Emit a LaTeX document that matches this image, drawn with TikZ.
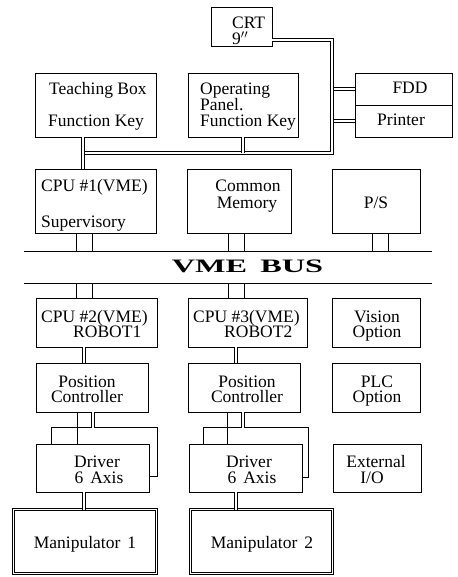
\documentclass[tikz,border=0pt]{standalone}
\usepackage{fontspec}
\setmainfont{Liberation Serif}
\usetikzlibrary{calc}
\begin{document}
\begin{tikzpicture}[x=1pt,y=-1pt,
  box/.style={draw, line width=0.7pt, inner sep=0pt, rectangle},
  ghost/.style={inner sep=0pt, rectangle},
  txt/.style={inner sep=0pt, font=\fontsize{17.5}{16}\selectfont},
  ln/.style={line width=0.7pt},
  dbl/.style={draw=white, line width=1.3pt, preaction={draw=black, line width=3.1pt}},
  mbox/.style={draw=white, line width=1.8pt, inner sep=0pt, rectangle, preaction={draw=black, line width=3.6pt}},
  busline/.style={line width=0.8pt}]
\useasboundingbox (0,0) rectangle (457,577);
% boxes
\node[box, minimum width=61pt, minimum height=39pt] (crt) at (241.5,26.5) {};
\node[box, minimum width=121pt, minimum height=64pt] (tb) at (95.5,105) {};
\node[box, minimum width=110pt, minimum height=64pt] (op) at (243,105) {};
\node[box, minimum width=97pt, minimum height=32pt] (fdd) at (403.5,89) {};
\node[box, minimum width=97pt, minimum height=32pt] (prn) at (403.5,121) {};
\node[box, minimum width=121pt, minimum height=64pt] (cpu1) at (95.5,201) {};
\node[box, minimum width=104pt, minimum height=64pt] (cm) at (239,201) {};
\node[box, minimum width=88pt, minimum height=64pt] (ps) at (376,201) {};
\node[box, minimum width=121pt, minimum height=49pt] (cpu2) at (96.5,322.5) {};
\node[box, minimum width=119pt, minimum height=49pt] (cpu3) at (247.5,322.5) {};
\node[box, minimum width=88pt, minimum height=49pt] (vis) at (376,322.5) {};
\node[box, minimum width=112pt, minimum height=49pt] (pc1) at (92,387.5) {};
\node[box, minimum width=112pt, minimum height=49pt] (pc2) at (244,387.5) {};
\node[box, minimum width=88pt, minimum height=49pt] (plc) at (376,387.5) {};
\node[ghost, minimum width=105pt, minimum height=48pt] (drv1b) at (104.5,452) {};
\node[ghost, minimum width=104pt, minimum height=49pt] (drv2b) at (256,452.5) {};
\node[box, minimum width=113pt, minimum height=48pt] (drv1) at (92.5,468) {};
\node[box, minimum width=113pt, minimum height=48pt] (drv2) at (245.5,468) {};
\node[box, minimum width=88pt, minimum height=48pt] (ext) at (377,468) {};
\node[mbox, minimum width=143pt, minimum height=64pt] (man1) at (85,541.5) {};
\node[mbox, minimum width=142pt, minimum height=64pt] (man2) at (261.5,541.5) {};
% back driver boxes
\draw[ln] (drv1b.west |- drv1.north) -- (drv1b.north west) -- (drv1b.north east) -- (drv1b.south east) -- (drv1b.south east -| drv1.east);
\draw[ln] (drv2b.west |- drv2.north) -- (drv2b.north west) -- (drv2b.north east) -- (drv2b.south east) -- (drv2b.south east -| drv2.east);
% coordinates
\coordinate (k1) at (332,40);
\coordinate (k2) at (332,153);
\coordinate (k3) at (83,153);
\coordinate (kx) at (333.6,0);
\coordinate (busTL) at (24,251);
\coordinate (busTR) at (432,251);
\coordinate (busBL) at (24,283);
\coordinate (busBR) at (432,283);
\foreach \c in {76,92,228,244,372,388,84,236,77,93,227,243}{\coordinate (x\c) at (\c,0);}
% cable from CRT
\draw[dbl, line join=miter] (crt.east |- k1) -- (k1) -- (k2) -- (k3);
\draw[dbl] (kx |- fdd.west) -- (fdd.west);
\draw[dbl] (kx |- prn.west) -- (prn.west);
\draw[dbl] (tb.south -| k3) -- (cpu1.north -| k3);
\draw[dbl] (x243 |- op.south) -- (x243 |- k2);
% bus
\draw[busline] (busTL) -- (busTR);
\draw[busline] (busBL) -- (busBR);
\foreach \n/\a/\b in {cpu1/76/92, cm/228/244, ps/372/388}{
  \draw[ln] (x\a |- \n.south) -- (x\a |- busTL);
  \draw[ln] (x\b |- \n.south) -- (x\b |- busTL);
}
\foreach \n/\a/\b in {cpu2/76/92, cpu3/228/244}{
  \draw[ln] (x\a |- busBL) -- (x\a |- \n.north);
  \draw[ln] (x\b |- busBL) -- (x\b |- \n.north);
}
% lower chains
\draw[dbl] (x84 |- cpu2.south) -- (x84 |- pc1.north);
\draw[dbl] (x236 |- cpu3.south) -- (x236 |- pc2.north);
\draw[ln] (x77 |- pc1.south) -- (x77 |- drv1.north);
\draw[dbl] (x93 |- pc1.south) -- (x93 |- drv1b.north);
\draw[ln] (x227 |- pc2.south) -- (x227 |- drv2.north);
\draw[dbl] (x243 |- pc2.south) -- (x243 |- drv2b.north);
\draw[dbl] (x84 |- drv1.south) -- ($(x84 |- man1.north)+(0,1.8)$);
\draw[dbl] (x236 |- drv2.south) -- ($(x236 |- man2.north)+(0,1.8)$);
% texts
\node[txt, anchor=base west] (crtt1) at (232,29) {CRT};
\node[txt, anchor=base west] (crtt2) at (232,45) {9$''$};
\node[txt, anchor=base west] (tbt1) at (49,95) {Teaching Box};
\node[txt, anchor=base west] (tbt2) at (48,127) {Function Key};
\node[txt, anchor=base west] (opt1) at (200,95) {Operating};
\node[txt, anchor=base west] (opt2) at (200,111) {Panel.};
\node[txt, anchor=base west] (opt3) at (200,127) {Function Key};
\node[txt, anchor=base] (fddt) at (410,94) {FDD};
\node[txt, anchor=base] (prnt) at (401,126) {Printer};
\node[txt, anchor=base west] (cpu1t1) at (41,192) {CPU \#1(VME)};
\node[txt, anchor=base west] (cpu1t2) at (41,227) {Supervisory};
\node[txt, anchor=base] (cmt1) at (248,191) {Common};
\node[txt, anchor=base] (cmt2) at (247,208) {Memory};
\node[txt, anchor=base] (pst) at (376,208) {P/S};
\node[inner sep=0pt, anchor=base] (bust) at (247.5,272) {\scalebox{1.7}[1]{\fontsize{19}{19}\selectfont\bfseries VME\hspace{3pt} BUS}};
\node[txt, anchor=base west] (cpu2t1) at (41,322) {CPU \#2(VME)};
\node[txt, anchor=base west] (cpu2t2) at (73,337) {ROBOT1};
\node[txt, anchor=base west] (cpu3t1) at (193,322) {CPU \#3(VME)};
\node[txt, anchor=base west] (cpu3t2) at (224,337) {ROBOT2};
\node[txt, anchor=base] (vist1) at (377,322) {Vision};
\node[txt, anchor=base] (vist2) at (377,337) {Option};
\node[txt, anchor=base] (pc1t1) at (87,387) {Position};
\node[txt, anchor=base] (pc1t2) at (87,402) {Controller};
\node[txt, anchor=base] (pc2t1) at (247,387) {Position};
\node[txt, anchor=base] (pc2t2) at (247,402) {Controller};
\node[txt, anchor=base] (plct1) at (377,387) {PLC};
\node[txt, anchor=base] (plct2) at (377,402) {Option};
\node[txt, anchor=base] (drv1t1) at (97,467) {Driver};
\node[txt, anchor=base] (drv1t2) at (99,483) {6\hspace{0.4em}Axis};
\node[txt, anchor=base] (drv2t1) at (249,467) {Driver};
\node[txt, anchor=base] (drv2t2) at (252,483) {6\hspace{0.4em}Axis};
\node[txt, anchor=base] (extt1) at (376,467) {External};
\node[txt, anchor=base] (extt2) at (372,483) {I/O};
\node[txt, anchor=base] (man1t) at (85,548) {Manipulator\hspace{0.4em}1};
\node[txt, anchor=base] (man2t) at (262,548) {Manipulator\hspace{0.4em}2};
\end{tikzpicture}
\end{document}
